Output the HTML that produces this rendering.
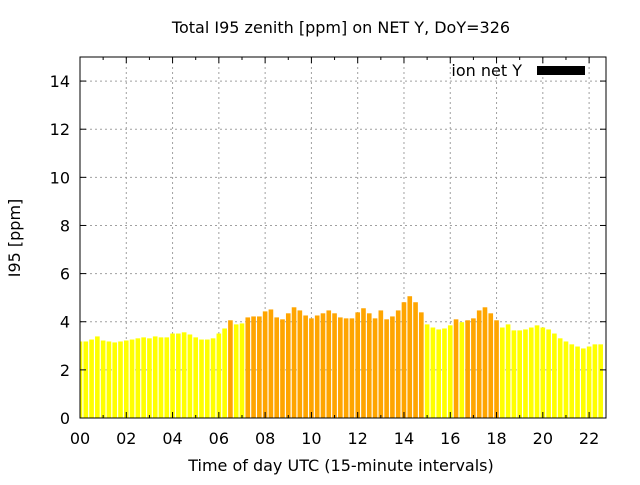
<!DOCTYPE html>
<html><head><meta charset="utf-8"><style>
body{margin:0;background:#fff}
svg text{font-family:"DejaVu Sans","Liberation Sans",sans-serif;fill:#000}
</style></head><body>
<svg id="chart" width="640" height="480" xmlns="http://www.w3.org/2000/svg">
<rect width="640" height="480" fill="#fff"/>
<text x="341" y="33" font-size="16" text-anchor="middle">Total I95 zenith [ppm] on NET Y, DoY=326</text>
<g id="grid"></g>
<g id="bars"></g>
<g id="axes"></g>
<text transform="translate(20,238) rotate(-90)" font-size="16" text-anchor="middle">I95 [ppm]</text>
<text x="341" y="471" font-size="16" text-anchor="middle">Time of day UTC (15-minute intervals)</text>
<g>
<text x="522" y="76" font-size="16" text-anchor="end">ion net Y</text>
<rect x="537" y="66" width="48" height="9" fill="#000"/>
</g>
</svg>
<script>
const values = [3.18,3.18,3.26,3.39,3.22,3.18,3.14,3.18,3.22,3.26,3.31,3.35,3.31,3.39,3.35,3.35,3.51,3.51,3.56,3.47,3.35,3.26,3.26,3.31,3.51,3.72,4.06,3.89,3.93,4.18,4.22,4.22,4.43,4.51,4.18,4.10,4.35,4.60,4.47,4.26,4.14,4.26,4.35,4.47,4.35,4.18,4.14,4.14,4.39,4.56,4.35,4.14,4.47,4.10,4.22,4.47,4.81,5.06,4.81,4.39,3.89,3.76,3.68,3.72,3.85,4.10,3.98,4.06,4.14,4.47,4.60,4.35,4.06,3.76,3.89,3.64,3.64,3.68,3.76,3.85,3.76,3.68,3.51,3.31,3.18,3.06,2.97,2.89,2.97,3.06,3.06];
const yTicks = [0,2,4,6,8,10,12,14];
const xTickLabels = ["00","02","04","06","08","10","12","14","16","18","20","22"];
const threshold = 4;

const L=80,R=606,T=57,B=418,XMAX=22.73,YMAX=15;
const sx=h=>L+h*(R-L)/XMAX;
const sy=v=>B-v*(B-T)/YMAX;
const NS="http://www.w3.org/2000/svg";
function mk(tag,attrs,parent){const e=document.createElementNS(NS,tag);for(const k in attrs)e.setAttribute(k,attrs[k]);parent.appendChild(e);return e;}
const grid=document.getElementById('grid'),bars=document.getElementById('bars'),axes=document.getElementById('axes');
const dash={stroke:"#a0a0a0","stroke-width":1,"stroke-dasharray":"2,3"};
yTicks.forEach(v=>{
  if(v>0){const l=mk('line',Object.assign({x1:L,x2:R,y1:sy(v),y2:sy(v)},dash),grid);
  
  }
  const t=mk('text',{x:L-10,y:sy(v)+6,"font-size":16,"text-anchor":"end"},axes);t.textContent=v;
  
  
  const a=mk('line',{x1:L,x2:L+6,y1:sy(v),y2:sy(v),stroke:"#000"},axes);
  
  
  const b=mk('line',{x1:R-6,x2:R,y1:sy(v),y2:sy(v),stroke:"#000"},axes);
  
  
});
xTickLabels.forEach((lab,i)=>{
  const h=i*2,x=sx(h);
  if(h>0){const l=mk('line',Object.assign({x1:x,x2:x,y1:T,y2:B},dash),grid);
  
  }
  const t=mk('text',{x:x,y:444,"font-size":16,"text-anchor":"middle"},axes);t.textContent=lab;
  
  
});
for(let h=0;h<=22;h++){const x=sx(h),len=h%2?3:6;
  const a=mk('line',{x1:x,x2:x,y1:B,y2:B-len,stroke:"#000"},axes);
  
  
  const b=mk('line',{x1:x,x2:x,y1:T,y2:T+len,stroke:"#000"},axes);
  
  
}
const clip=mk('clipPath',{id:'pc'},bars);mk('rect',{x:L,y:T,width:R-L,height:B-T},clip);
bars.setAttribute('clip-path','url(#pc)');
values.forEach((v,i)=>{
  const c=i*0.25,x0=sx(c-0.1),x1=sx(c+0.1);
  const r=mk('rect',{x:x0,y:sy(v),width:x1-x0,height:B-sy(v),fill:v>=threshold?"#ffa500":"#ffff00"},bars);
  
  
});
const f=mk('rect',{x:L,y:T,width:R-L,height:B-T,fill:"none",stroke:"#000","stroke-width":1},axes);


</script>
</body></html>
